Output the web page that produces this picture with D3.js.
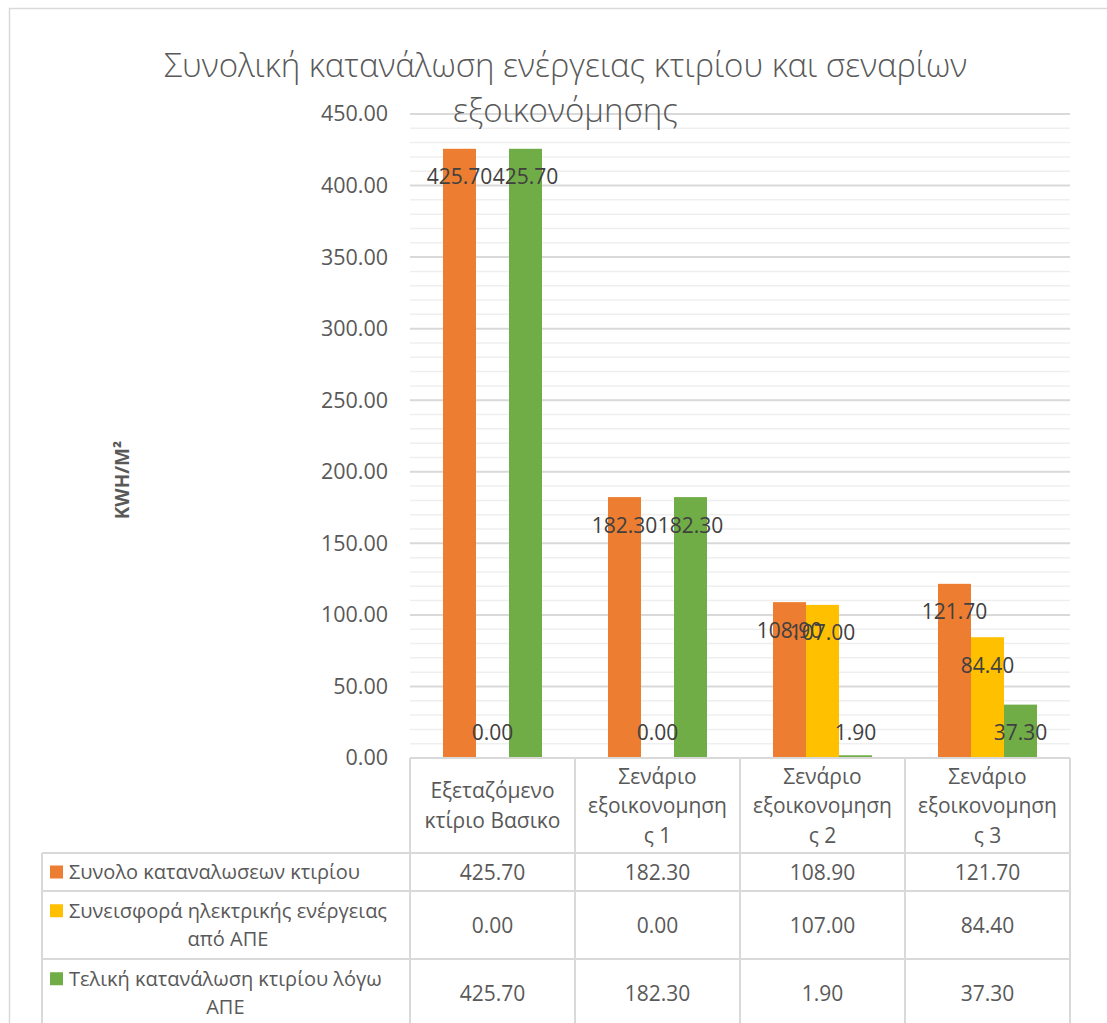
<!DOCTYPE html>
<html>
<head>
<meta charset="utf-8">
<script src="https://cdn.jsdelivr.net/npm/d3@7"></script>
<style>
  html, body { margin: 0; padding: 0; background: #fff; }
  svg { display: block; font-family: "Open Sans", "Noto Sans", sans-serif; }
</style>
</head>
<body>
<svg id="chart" width="1107" height="1023"></svg>
<script>
// ---- data ----
const categories = ["Εξεταζόμενο κτίριο Βασικο", "Σενάριο εξοικονομησης 1", "Σενάριο εξοικονομησης 2", "Σενάριο εξοικονομησης 3"];
const categoryLines = [
  ["Εξεταζόμενο", "κτίριο Βασικο"],
  ["Σενάριο", "εξοικονομηση", "ς 1"],
  ["Σενάριο", "εξοικονομηση", "ς 2"],
  ["Σενάριο", "εξοικονομηση", "ς 3"]
];
const seriesNames = ["Συνολο καταναλωσεων κτιρίου", "Συνεισφορά ηλεκτρικής ενέργειας από ΑΠΕ", "Τελική κατανάλωση κτιρίου λόγω ΑΠΕ"];
const seriesNameLines = [
  ["Συνολο καταναλωσεων κτιρίου"],
  ["Συνεισφορά ηλεκτρικής ενέργειας", "από ΑΠΕ"],
  ["Τελική κατανάλωση κτιρίου λόγω", "ΑΠΕ"]
];
const totalConsumption = [425.70, 182.30, 108.90, 121.70];
const resContribution = [0.00, 0.00, 107.00, 84.40];
const finalConsumption = [425.70, 182.30, 1.90, 37.30];
const seriesValues = [totalConsumption, resContribution, finalConsumption];
const seriesColors = ["#ED7D31", "#FFC000", "#70AD47"];
const yTicks = [0, 50, 100, 150, 200, 250, 300, 350, 400, 450];
const titleLines = ["Συνολική κατανάλωση ενέργειας κτιρίου και σεναρίων", "εξοικονόμησης"];
const yAxisTitle = "KWH/M²";

// ---- layout ----
const svg = d3.select("#chart");
const textColor = "#595959";
const lineColor = "#d9d9d9";
const fmt = d3.format(".2f");

const plotLeft = 410, plotRight = 1070, plotTop = 114, plotBottom = 758;
const tableLeft = 42;
const headerBottom = 853;
const rowBounds = [853, 891, 959, 1027];

const x = d3.scaleBand().domain(categories).range([plotLeft, plotRight]).padding(0);
const xInner = d3.scaleBand().domain(d3.range(seriesValues.length))
  .range([x.bandwidth() * 0.2, x.bandwidth() * 0.8]).padding(0);
const y = d3.scaleLinear().domain([0, 450]).range([plotBottom, plotTop]);

// outer chart border
svg.append("path")
  .attr("d", `M9.5,1023 V8.5 H1107`)
  .attr("fill", "none").attr("stroke", lineColor).attr("stroke-width", 1.5);

// minor gridlines
const minor = d3.range(10, 450, 10).filter(v => v % 50 !== 0);
svg.append("g").selectAll("line").data(minor).join("line")
  .attr("x1", plotLeft).attr("x2", plotRight)
  .attr("y1", d => y(d)).attr("y2", d => y(d))
  .attr("stroke", "#efefef").attr("stroke-width", 1.5);
// major gridlines
svg.append("g").selectAll("line").data(yTicks.filter(v => v > 0)).join("line")
  .attr("x1", plotLeft).attr("x2", plotRight)
  .attr("y1", d => y(d)).attr("y2", d => y(d))
  .attr("stroke", lineColor).attr("stroke-width", 2);

// y axis labels
const yAxis = svg.append("g").attr("transform", `translate(${plotLeft},0)`)
  .call(d3.axisLeft(y).tickValues(yTicks).tickFormat(fmt).tickSize(0).tickPadding(22));
yAxis.select(".domain").remove();
yAxis.selectAll("text").attr("fill", textColor).style("font-size", "21.5px")
  .style("font-family", '"Open Sans", sans-serif');

// y axis title
svg.append("text")
  .attr("transform", `translate(129,480) rotate(-90)`)
  .attr("text-anchor", "middle")
  .attr("fill", textColor)
  .style("font-size", "19px").style("font-weight", "bold")
  .text(yAxisTitle);

// bars
const groups = svg.append("g").selectAll("g").data(categories).join("g")
  .attr("transform", d => `translate(${x(d)},0)`);
groups.selectAll("rect")
  .data((c, ci) => seriesValues.map((vals, si) => ({si, v: vals[ci]})))
  .join("rect")
  .attr("x", d => xInner(d.si))
  .attr("width", xInner.bandwidth())
  .attr("y", d => y(d.v))
  .attr("height", d => y(0) - y(d.v))
  .attr("fill", d => seriesColors[d.si]);

// data labels
groups.selectAll("text.lbl")
  .data((c, ci) => seriesValues.map((vals, si) => ({si, v: vals[ci]})))
  .join("text").attr("class", "lbl")
  .attr("x", d => xInner(d.si) + xInner.bandwidth() / 2)
  .attr("y", d => Math.min(y(d.v) + 28, y(0) - 26) + 7.5)
  .attr("text-anchor", "middle")
  .attr("fill", "#404040")
  .style("font-size", "21px")
  .text(d => fmt(d.v));

// title
svg.append("g").selectAll("text").data(titleLines).join("text")
  .attr("x", 565.5).attr("y", (d, i) => 77 + i * 45)
  .attr("text-anchor", "middle")
  .attr("fill", textColor)
  .style("font-size", "33px").style("font-weight", 300)
  .text(d => d);

// ---- data table ----
const tbl = svg.append("g").attr("stroke", lineColor).attr("stroke-width", 2).attr("fill", "none");
const colEdges = [plotLeft, ...categories.map(c => x(c) + x.bandwidth())];
colEdges.forEach(cx => {
  tbl.append("line").attr("x1", cx).attr("x2", cx).attr("y1", plotBottom).attr("y2", 1023);
});
tbl.append("line").attr("x1", plotLeft).attr("x2", plotRight).attr("y1", plotBottom).attr("y2", plotBottom);
rowBounds.slice(0, 3).forEach(ry => {
  tbl.append("line").attr("x1", tableLeft).attr("x2", plotRight).attr("y1", ry).attr("y2", ry);
});
tbl.append("line").attr("x1", tableLeft).attr("x2", tableLeft).attr("y1", headerBottom).attr("y2", 1023);

// category header text
const headerMid = (plotBottom + headerBottom) / 2;
const hLine = 29.5;
categories.forEach((c, ci) => {
  const lines = categoryLines[ci];
  const cx = x(c) + x.bandwidth() / 2;
  lines.forEach((ln, li) => {
    svg.append("text")
      .attr("x", cx)
      .attr("y", headerMid + (li - (lines.length - 1) / 2) * hLine + 7.5)
      .attr("text-anchor", "middle").attr("fill", textColor)
      .style("font-size", "21px").text(ln);
  });
});

// series rows
const rLine = 28.5;
seriesNames.forEach((s, si) => {
  const mid = (rowBounds[si] + rowBounds[si + 1]) / 2;
  const lines = seriesNameLines[si];
  const firstCenter = mid - (lines.length - 1) / 2 * rLine;
  svg.append("rect").attr("x", 50).attr("y", firstCenter - 6.5)
    .attr("width", 13).attr("height", 13).attr("fill", seriesColors[si]);
  const texts = lines.map((ln, li) => svg.append("text")
    .attr("y", firstCenter + li * rLine + 7)
    .attr("text-anchor", "middle").attr("fill", textColor)
    .style("font-size", "20px").text(ln));
  const widths = texts.map(t => t.node().getComputedTextLength());
  const blockW = Math.min(d3.max(widths), 336);
  texts.forEach((t, i) => {
    t.attr("x", 69 + blockW / 2);
    if (widths[i] > 336) t.attr("textLength", 336).attr("lengthAdjust", "spacingAndGlyphs");
  });
  categories.forEach((c, ci) => {
    svg.append("text")
      .attr("x", x(c) + x.bandwidth() / 2)
      .attr("y", mid + 7.5)
      .attr("text-anchor", "middle").attr("fill", textColor)
      .style("font-size", "21px").text(fmt(seriesValues[si][ci]));
  });
});
</script>
</body>
</html>
